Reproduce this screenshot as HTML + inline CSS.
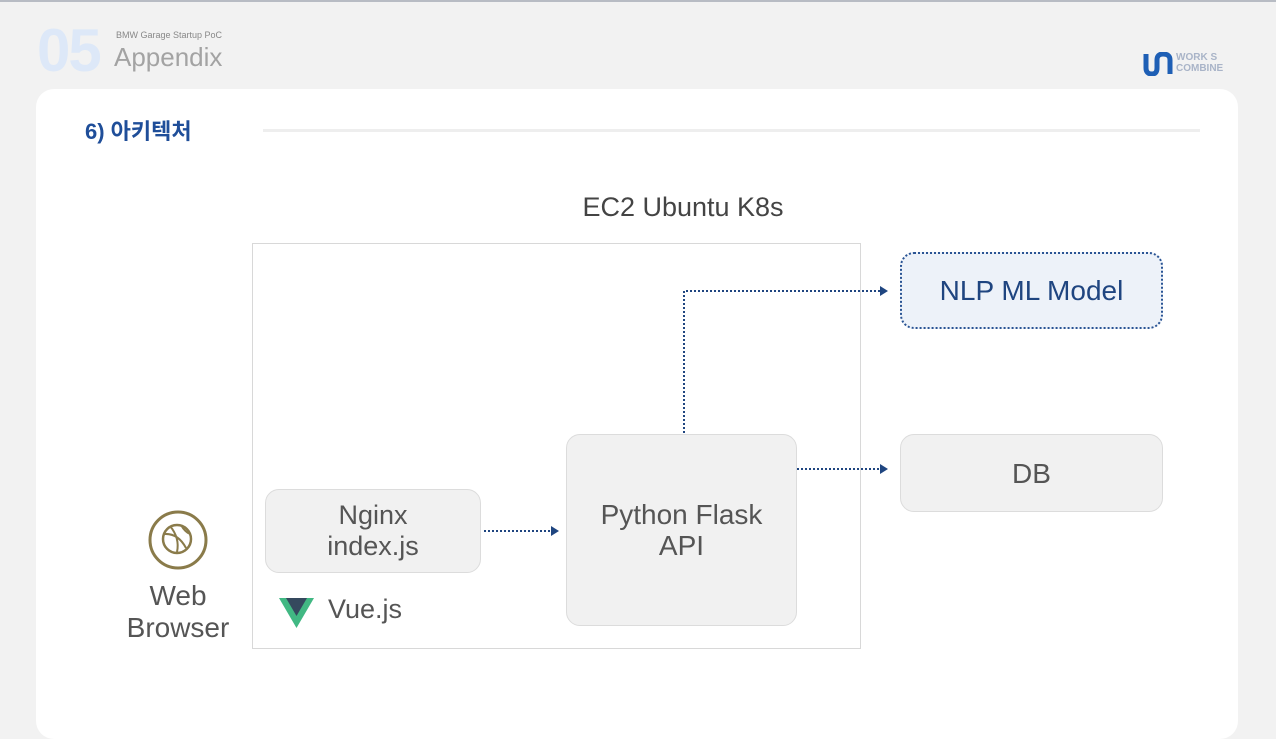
<!DOCTYPE html>
<html><head><meta charset="utf-8"><style>
body{margin:0;width:1276px;height:723px;background:#f2f2f2;position:relative;overflow:hidden;font-family:"Liberation Sans","Noto Sans CJK KR",sans-serif}
.a{position:absolute}
.box{position:absolute;box-sizing:border-box;background:#f1f1f1;border:1px solid #dcdcdc;border-radius:14px;display:flex;align-items:center;justify-content:center;text-align:center;color:#555;font-size:27px;line-height:31px}
</style></head><body>
<div class="a" style="left:0;top:0;width:1276px;height:2px;background:#b8bcc4"></div>
<div class="a" style="left:37px;top:16px;font-size:60px;font-weight:bold;color:#dde8f8;letter-spacing:-2px">05</div>
<div class="a" style="left:116px;top:30px;font-size:9px;color:#888">BMW Garage Startup PoC</div>
<div class="a" style="left:114px;top:42px;font-size:26px;color:#a3a3a3">Appendix</div>
<div class="a" style="left:1143px;top:52px;width:30px;height:24px">
<svg width="30" height="24"><path d="M3 2 V16 Q3 22 9 22 Q14 22 14 16 V8 Q14 2 20 2 Q27 2 27 8 V22" fill="none" stroke="#1e5fb5" stroke-width="5"/></svg></div>
<div class="a" style="left:1176px;top:52px;font-size:10px;line-height:11px;color:#a9b4c8;font-weight:bold">WORK S<br>COMBINE</div>
<div class="a" style="left:36px;top:89px;width:1202px;height:650px;background:#fff;border-radius:18px"></div>
<div class="a" style="left:85px;top:114px;font-size:22px;font-weight:bold;color:#1f4e99">6) 아키텍처</div>
<div class="a" style="left:263px;top:129px;width:937px;height:3px;background:#eeeeee"></div>
<div class="a" style="left:550px;top:192px;width:266px;text-align:center;font-size:27px;color:#444">EC2 Ubuntu K8s</div>
<div class="a" style="left:252px;top:243px;width:609px;height:406px;border:1px solid #d8d8d8;box-sizing:border-box"></div>
<div class="box" style="left:265px;top:489px;width:216px;height:84px">Nginx<br>index.js</div>
<div class="box" style="left:566px;top:434px;width:231px;height:192px;font-size:28px">Python Flask<br>API</div>
<div class="box" style="left:900px;top:252px;width:263px;height:77px;background:#edf2f9;border:2px dotted #2a5494;color:#1f4580;font-size:28px">NLP ML Model</div>
<div class="box" style="left:900px;top:434px;width:263px;height:78px;font-size:28px">DB</div>
<svg class="a" style="left:0;top:0" width="1276" height="723">
<g stroke="#1f4580" stroke-width="2" stroke-dasharray="2 2" fill="none">
<path d="M484 531 H552"/><path d="M797 469 H881"/><path d="M684 433 V291 H881"/></g>
<g fill="#1f4580"><path d="M551 526 L559 531 L551 536Z"/><path d="M880 464 L888 469 L880 474Z"/><path d="M880 286 L888 291 L880 296Z"/></g>
<circle cx="178" cy="540" r="28" fill="none" stroke="#8a7b4a" stroke-width="3"/>
<circle cx="177" cy="539" r="14" fill="none" stroke="#8a7b4a" stroke-width="2.5"/>
<path d="M164 534 Q178 533 186 548 M170 526 Q180 538 177 552 M181 525 Q185 532 190 534" fill="none" stroke="#8a7b4a" stroke-width="2"/>
<path d="M279 598 H314 L296.5 628Z" fill="#41b883"/><path d="M286 598 H307 L296.5 616Z" fill="#35495e"/>
</svg>
<div class="a" style="left:108px;top:580px;width:140px;text-align:center;font-size:28px;line-height:32px;color:#555">Web<br>Browser</div>
<div class="a" style="left:328px;top:594px;font-size:27px;color:#555">Vue.js</div>
</body></html>
